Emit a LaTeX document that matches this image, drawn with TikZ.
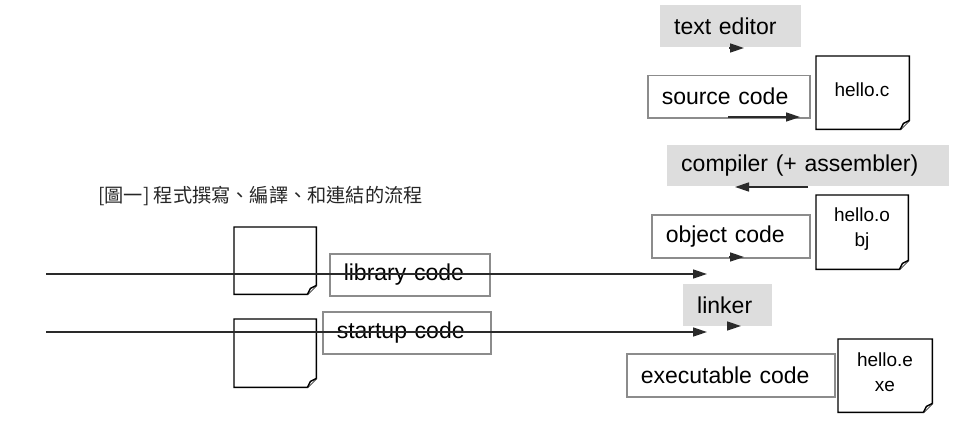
\documentclass[tikz,border=0pt]{standalone}
\usepackage{fontspec}
\setmainfont{Liberation Sans}
\newfontfamily\cjkfont{Noto Sans CJK TC}
\usetikzlibrary{arrows.meta}
\definecolor{boxgray}{HTML}{DDDDDD}
\definecolor{edgegray}{HTML}{8C8C8C}
\definecolor{arrowdark}{HTML}{2A2A2A}
\tikzset{
  labelbox/.style={anchor=north west, rectangle, inner xsep=14pt, inner ysep=0pt,
    minimum height=#1, align=left, font=\fontsize{23}{27}\selectfont, text=black},
  graybox/.style={labelbox=#1, fill=boxgray, draw=none},
  outlinebox/.style={labelbox=#1, fill=white, draw=edgegray, line width=1.5pt},
  docnode/.style={anchor=north west, inner sep=0pt},
  doctext/.style={inner sep=0pt, align=center, font=\fontsize{19}{25}\selectfont, text=black},
  docline/.style={draw=black, line width=1.4pt, line join=miter, fill=white},
  flow/.style={draw=arrowdark, line width=1.5pt, -{Triangle[length=14pt,width=9pt]}},
}
\newcommand{\docshape}[1]{%
  \draw[docline] (#1.north west) -- (#1.north east) -- ([yshift=9pt]#1.south east)
     -- ([xshift=-9pt]#1.south east) -- (#1.south west) -- cycle;
  \draw[docline] ([xshift=-9pt]#1.south east) -- ([xshift=-6pt,yshift=6pt]#1.south east)
     -- ([yshift=9pt]#1.south east);
}
\begin{document}
\begin{tikzpicture}[x=1pt,y=-1pt]
\useasboundingbox (0,0) rectangle (965,425);

% caption
\node[anchor=west, inner sep=0pt, font=\cjkfont\fontsize{19.2}{22}\selectfont, text=black!85] (cap) at (98,196) {[圖一] 程式撰寫、編譯、和連結的流程};

% right column boxes
\node[graybox=42pt, text width=113pt] (ted) at (660,5) {text editor};
\node[outlinebox=42pt, text width=134pt] (src) at (647,75) {source code};
\node[graybox=41pt, text width=254pt] (comp) at (667,145) {compiler (+ assembler)};
\node[outlinebox=43pt, text width=130pt] (obj) at (651,214) {object code};
\node[graybox=42pt, text width=61pt] (lnk) at (683,284) {linker};
\node[outlinebox=43pt, text width=180pt] (exe) at (626,353) {executable code};

% document shapes
\node[docnode, minimum width=93pt, minimum height=73pt] (hc) at (816,56) {};
\node[docnode, minimum width=92pt, minimum height=74pt] (ho) at (816,195) {};
\node[docnode, minimum width=94pt, minimum height=73pt] (he) at (838,339) {};
\node[docnode, minimum width=82pt, minimum height=67pt] (d1) at (234,227) {};
\node[docnode, minimum width=82pt, minimum height=68pt] (d2) at (234,319) {};
\docshape{hc}\docshape{ho}\docshape{he}\docshape{d1}\docshape{d2}
\node[doctext] (hct) at (862,90) {hello.c};
\node[doctext] (hot) at (862,229) {hello.o\\bj};
\node[doctext] (het) at (885,372) {hello.e\\xe};

% left boxes
\node[outlinebox=42pt, text width=132pt] (lib) at (329,253) {library code};
\node[outlinebox=42pt, text width=140pt] (stu) at (322,311) {startup code};

% connector end points
\coordinate (a1s) at (729,48);  \coordinate (a1e) at (744,48);
\coordinate (a2s) at (728,117); \coordinate (a2e) at (800,117);
\coordinate (a3s) at (808,187); \coordinate (a3e) at (735,187);
\coordinate (a4s) at (729,257); \coordinate (a4e) at (744,257);
\coordinate (a5s) at (46,274);  \coordinate (a5e) at (707,274);
\coordinate (a6s) at (727,326); \coordinate (a6e) at (741,326);
\coordinate (a7s) at (46,332);  \coordinate (a7e) at (707,332);

\draw[flow] (a1s) -- (a1e);
\draw[flow] (a2s) -- (a2e);
\draw[flow] (a3s) -- (a3e);
\draw[flow] (a4s) -- (a4e);
\draw[flow] (a5s) -- (a5e);
\draw[flow] (a6s) -- (a6e);
\draw[flow] (a7s) -- (a7e);
\end{tikzpicture}
\end{document}
